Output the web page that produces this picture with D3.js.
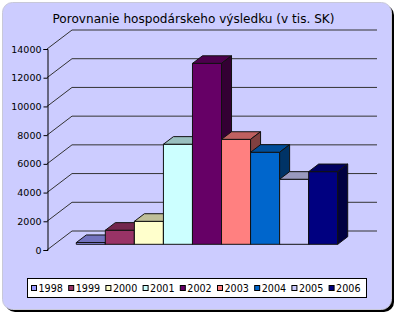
<!DOCTYPE html>
<html>
<head>
<meta charset="utf-8">
<script src="https://cdn.jsdelivr.net/npm/d3@7"></script>
<style>
  html, body { margin: 0; padding: 0; background: #fff; }
  svg { display: block; }
</style>
</head>
<body>
<div id="chart"></div>
<script>
// Porovnanie hospodárskeho výsledku – 3D column chart (Excel style)

const title = "Porovnanie hospodárskeho výsledku (v tis. SK)";
const years = ["1998", "1999", "2000", "2001", "2002", "2003", "2004", "2005", "2006"];
const values = [120, 980, 1600, 6970, 12600, 7310, 6410, 4530, 5060];
const colors = ["#9999FF", "#993366", "#FFFFCC", "#CCFFFF", "#660066", "#FF8080", "#0066CC", "#CCCCFF", "#000080"];
const tickValues = [0, 2000, 4000, 6000, 8000, 10000, 12000, 14000];

const width = 400;
const height = 333;
const font = "'DejaVu Sans', Verdana, sans-serif";

// plot geometry (front plane) and 3D depth offset
const plotLeft = 47, plotBottom = 250, plotTop = 49, plotW = 305;
const DX = 25, DY = 19;
const zFront = 0.3, zBack = 0.7;

const svg = d3.select("#chart")
  .append("svg")
  .attr("width", width)
  .attr("height", height);

// --- BACKGROUND PANEL ---
svg.append("rect")
  .attr("x", 5).attr("y", 5)
  .attr("width", 389).attr("height", 307)
  .attr("rx", 10)
  .attr("fill", "#000");

svg.append("rect")
  .attr("x", 2.5).attr("y", 2.5)
  .attr("width", 389).attr("height", 307)
  .attr("rx", 10)
  .attr("fill", "#CCCCFF")
  .attr("stroke", "#c8c8d8")
  .attr("stroke-width", 1);

// --- TITLE ---
svg.append("text")
  .attr("x", 193.5)
  .attr("y", 23)
  .attr("text-anchor", "middle")
  .style("font-family", font)
  .style("font-size", "12.1px")
  .attr("fill", "#000")
  .text(title);

// --- SCALES ---
const y = d3.scaleLinear().domain([0, 14000]).range([plotBottom, plotTop]);
const x = d3.scaleBand()
  .domain(years)
  .range([0, plotW])
  .paddingInner(0)
  .paddingOuter(0.75);

// project (x along front plane, value, depth 0..1) to screen
const P = (px, v, z) => [plotLeft + px + z * DX, y(v) - z * DY];

// --- WALLS: gridlines ---
const grid = svg.append("g")
  .attr("stroke", "#333")
  .attr("stroke-width", 1)
  .attr("fill", "none");

tickValues.forEach(t => {
  const a = P(0, t, 0), b = P(0, t, 1), c = P(plotW, t, 1);
  grid.append("path")
    .attr("d", d3.line()([a, b, c]));
});

// --- AXIS ---
const axis = svg.append("g")
  .attr("transform", `translate(${plotLeft + 0.5},0)`)
  .call(d3.axisLeft(y).tickValues(tickValues).tickSize(4).tickPadding(2).tickFormat(d3.format("d")));

axis.select(".domain").attr("stroke", "#000");
axis.selectAll(".tick line").attr("stroke", "#000");
axis.selectAll(".tick text")
  .style("font-family", font)
  .style("font-size", "9.5px")
  .attr("fill", "#000");

// --- BARS ---
const shade = (c, f) => {
  const r = d3.rgb(c);
  return d3.rgb(r.r * f, r.g * f, r.b * f).formatHex();
};

const bars = svg.append("g")
  .attr("stroke", "#111")
  .attr("stroke-width", 1)
  .attr("stroke-linejoin", "round");

const poly = pts => "M" + pts.map(p => p.join(",")).join("L") + "Z";

years.forEach((yr, i) => {
  const x0 = x(yr), x1 = x(yr) + x.bandwidth();
  const v = values[i];
  const g = bars.append("g");

  // front face
  g.append("path")
    .attr("fill", colors[i])
    .attr("d", poly([P(x0, 0, zFront), P(x1, 0, zFront), P(x1, v, zFront), P(x0, v, zFront)]));
  // top face
  g.append("path")
    .attr("fill", shade(colors[i], 0.75))
    .attr("d", poly([P(x0, v, zFront), P(x1, v, zFront), P(x1, v, zBack), P(x0, v, zBack)]));
  // right side face
  g.append("path")
    .attr("fill", shade(colors[i], 0.5))
    .attr("d", poly([P(x1, 0, zFront), P(x1, 0, zBack), P(x1, v, zBack), P(x1, v, zFront)]));
});

// --- LEGEND ---
const legend = svg.append("g");

legend.append("rect")
  .attr("x", 27.5).attr("y", 278.5)
  .attr("width", 339).attr("height", 19)
  .attr("fill", "#fff")
  .attr("stroke", "#000");

const step = 37.2;
years.forEach((yr, i) => {
  const lx = 31.5 + i * step;
  legend.append("rect")
    .attr("x", lx).attr("y", 285.5)
    .attr("width", 5).attr("height", 5)
    .attr("fill", colors[i])
    .attr("stroke", "#000");
  legend.append("text")
    .attr("x", lx + 7)
    .attr("y", 291.5)
    .style("font-family", font)
    .style("font-size", "9.6px")
    .attr("fill", "#000")
    .text(yr);
});
</script>
</body>
</html>
